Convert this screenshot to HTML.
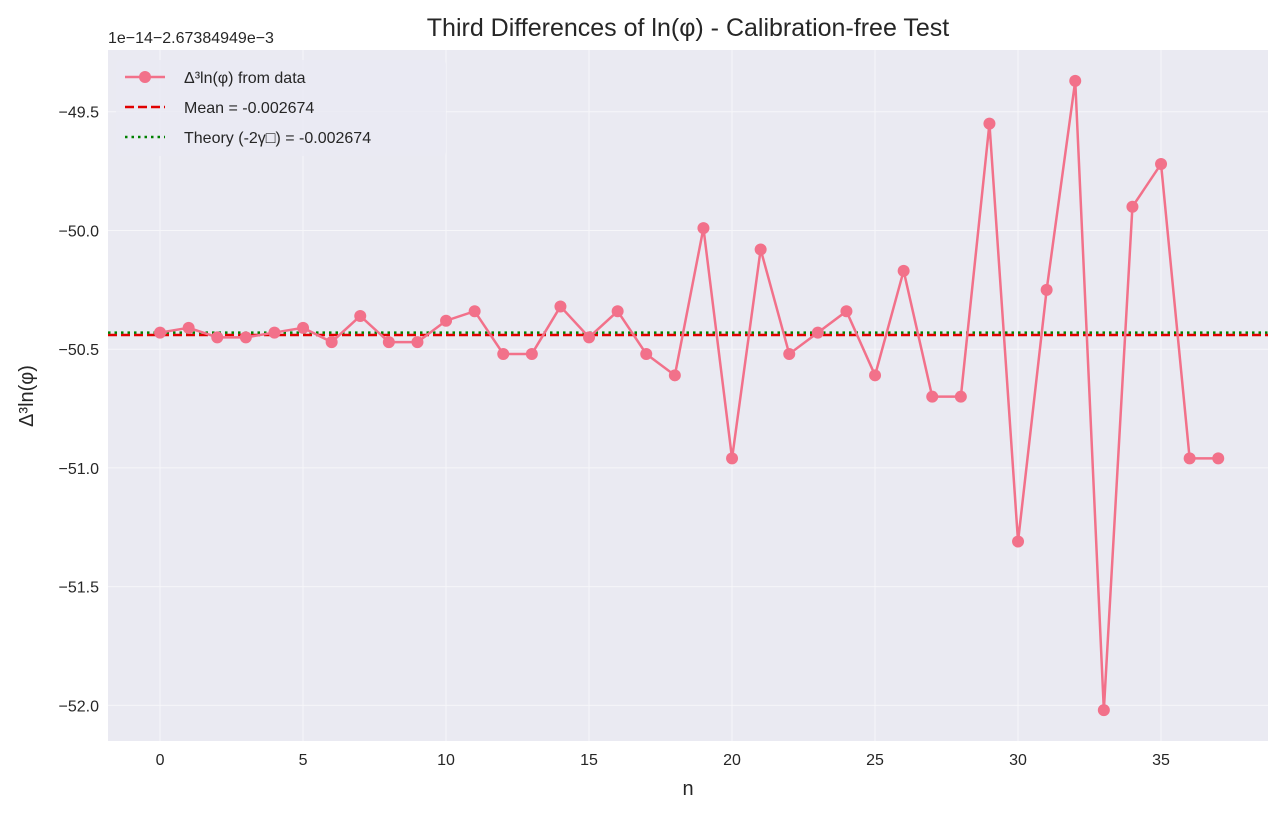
<!DOCTYPE html>
<html><head><meta charset="utf-8"><style>
body{margin:0;background:#fff;}
svg text{font-family:"Liberation Sans","DejaVu Sans",sans-serif;fill:#262626;}
</style></head><body>
<svg id="chart" width="1284" height="815" xmlns="http://www.w3.org/2000/svg">
<rect x="0" y="0" width="1284" height="815" fill="#fff"/>
<rect x="108" y="50" width="1160" height="691" fill="#eaeaf2"/>
<g id="grid" opacity="0.6"></g>
<g id="axes"></g>
<g id="series"></g>
<text x="688" y="36" font-size="25" text-anchor="middle">Third Differences of ln(φ) - Calibration-free Test</text>
<text x="688" y="795" font-size="20" text-anchor="middle">n</text>
<text x="0" y="0" font-size="20" text-anchor="middle" transform="translate(33,396) rotate(-90)">Δ³ln(φ)</text>
<text x="108" y="43" font-size="16">1e−14−2.67384949e−3</text>
<g>
<rect x="116" y="60" width="330" height="96" rx="4" fill="#eaeaf2" opacity="0.8"/>
<line x1="125" y1="77" x2="165" y2="77" stroke="#f2718a" stroke-width="2.5"/>
<circle cx="145" cy="77" r="6" fill="#f2718a"/>
<text x="184" y="83" font-size="16">Δ³ln(φ) from data</text>
<line x1="125" y1="107" x2="165" y2="107" stroke="#e00000" stroke-width="2.5" stroke-dasharray="9,4"/>
<text x="184" y="113" font-size="16">Mean = -0.002674</text>
<line x1="125" y1="137" x2="165" y2="137" stroke="#008000" stroke-width="2.5" stroke-dasharray="2.5,4"/>
<text x="184" y="143" font-size="16">Theory (-2γ□) = -0.002674</text>
</g>
</svg>
<script>
const nValues=[0,1,2,3,4,5,6,7,8,9,10,11,12,13,14,15,16,17,18,19,20,21,22,23,24,25,26,27,28,29,30,31,32,33,34,35,36,37];
const diffValues=[-50.43,-50.41,-50.45,-50.45,-50.43,-50.41,-50.47,-50.36,-50.47,-50.47,-50.38,-50.34,-50.52,-50.52,-50.32,-50.45,-50.34,-50.52,-50.61,-49.99,-50.96,-50.08,-50.52,-50.43,-50.34,-50.61,-50.17,-50.70,-50.70,-49.55,-51.31,-50.25,-49.37,-52.02,-49.90,-49.72,-50.96,-50.96];
const meanValue=-50.44;
const theoryValue=-50.43;
const xTicks=[0,5,10,15,20,25,30,35];
const yTicks=[-49.5,-50.0,-50.5,-51.0,-51.5,-52.0];
const yTickLabels=["−49.5","−50.0","−50.5","−51.0","−51.5","−52.0"];
const L=108,R=1268,T=50,B=741;
const xMin=-1.82,xMax=38.74,yMin=-52.15,yMax=-49.24;
const X=v=>L+(v-xMin)/(xMax-xMin)*(R-L);
const Y=v=>B-(v-yMin)/(yMax-yMin)*(B-T);
const NS="http://www.w3.org/2000/svg";
function mk(tag,attrs,parent){const e=document.createElementNS(NS,tag);for(const k in attrs)e.setAttribute(k,attrs[k]);parent.appendChild(e);return e;}
const grid=document.getElementById('grid'),axes=document.getElementById('axes'),ser=document.getElementById('series');
xTicks.forEach(t=>{
 const g=mk('line',{x1:X(t),x2:X(t),y1:T,y2:B,stroke:'#fff','stroke-width':1},grid);
 
 
 const tx=mk('text',{x:X(t),y:B+24,'font-size':16,'text-anchor':'middle'},axes);
 tx.textContent=t;
 
 
});
yTicks.forEach((t,i)=>{
 const g=mk('line',{x1:L,x2:R,y1:Y(t),y2:Y(t),stroke:'#fff','stroke-width':1},grid);
 
 
 const tx=mk('text',{x:L-9,y:Y(t)+6,'font-size':16,'text-anchor':'end'},axes);
 tx.textContent=yTickLabels[i];
 
 
});
const ml=mk('line',{x1:L,x2:R,y1:Y(meanValue),y2:Y(meanValue),stroke:'#e00000','stroke-width':2.5,'stroke-dasharray':'9,4'},ser);


const tl=mk('line',{x1:L,x2:R,y1:Y(theoryValue),y2:Y(theoryValue),stroke:'#008000','stroke-width':2.5,'stroke-dasharray':'2.5,4'},ser);


const pts=nValues.map((n,i)=>X(n)+','+Y(diffValues[i])).join(' ');
const pl=mk('polyline',{points:pts,fill:'none',stroke:'#f2718a','stroke-width':2.5},ser);


nValues.forEach((n,i)=>{
 const c=mk('circle',{cx:X(n),cy:Y(diffValues[i]),r:6,fill:'#f2718a'},ser);
 
 
});
</script>
</body></html>
